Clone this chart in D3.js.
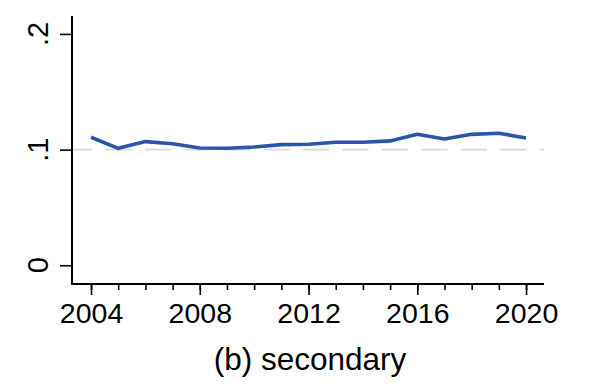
<!DOCTYPE html>
<html>
<head>
<meta charset="utf-8">
<script src="https://cdn.jsdelivr.net/npm/d3@7"></script>
<style>
	body { margin: 0; background: #fff; }
	text { font-family: "Liberation Sans", Arial, sans-serif; fill: #000; }
</style>
</head>
<body>
<script>
//data
let years = [2004, 2005, 2006, 2007, 2008, 2009, 2010, 2011, 2012, 2013, 2014, 2015, 2016, 2017, 2018, 2019, 2020];
let shares = [0.1107, 0.1011, 0.1069, 0.1051, 0.1014, 0.1011, 0.1023, 0.1043, 0.1046, 0.1063, 0.1063, 0.1075, 0.1132, 0.1092, 0.1132, 0.1141, 0.1101];
let yTicks = [0, 0.1, 0.2];
let yTickLabels = ["0", ".1", ".2"];
let xMajorTicks = [2004, 2008, 2012, 2016, 2020];
let refValue = 0.1;
let title = "(b) secondary";

let svg = d3.select("body").append("svg")
	.attr("width", 598)
	.attr("height", 386);

//plot area edges
let plotLeft = 72, plotRight = 544, plotTop = 16, plotBottom = 284;

let scaleX = d3.scaleLinear()
	.domain([2003.3, 2020.66])
	.range([plotLeft, plotRight]);

let scaleY = d3.scaleLinear()
	.domain([-0.0162, 0.2155])
	.range([plotBottom, plotTop]);

//dashed reference line at .1
svg.append("line")
	.attr("x1", plotLeft)
	.attr("x2", plotRight)
	.attr("y1", scaleY(refValue))
	.attr("y2", scaleY(refValue))
	.attr("stroke", "#d8d8d8")
	.attr("stroke-width", 1.6)
	.attr("stroke-dasharray", "26,13.5")
	.attr("stroke-dashoffset", 6);

//the series
let line = d3.line()
	.x((d, i) => scaleX(years[i]))
	.y(d => scaleY(d));

svg.append("path")
	.datum(shares)
	.attr("d", line)
	.attr("fill", "none")
	.attr("stroke", "#2b55a8")
	.attr("stroke-width", 3.6)
	.attr("stroke-linejoin", "round");

//y axis
let yAxis = d3.axisLeft(scaleY)
	.tickValues(yTicks)
	.tickSize(12)
	.tickFormat("");

let yG = svg.append("g")
	.attr("transform", `translate(${plotLeft}, 0)`)
	.call(yAxis);
yG.select(".domain").attr("d", `M0,${plotTop}V${plotBottom}`).attr("stroke-width", 2);
yG.selectAll(".tick line").attr("stroke-width", 1.6);

svg.selectAll(".ylab")
	.data(yTicks)
	.enter().append("text")
	.attr("class", "ylab")
	.attr("transform", d => `translate(48, ${scaleY(d)}) rotate(-90)`)
	.attr("text-anchor", "middle")
	.attr("font-size", 29)
	.text((d, i) => yTickLabels[i]);

//x axis, minor ticks every year, longer ones with labels
let xMinor = d3.axisBottom(scaleX)
	.tickValues(years)
	.tickSize(6)
	.tickFormat("");

let xMinorG = svg.append("g")
	.attr("transform", `translate(0, ${plotBottom})`)
	.call(xMinor);
xMinorG.select(".domain").remove();
xMinorG.selectAll(".tick line").attr("stroke-width", 1.6);

let xAxis = d3.axisBottom(scaleX)
	.tickValues(xMajorTicks)
	.tickSize(11)
	.tickPadding(8)
	.tickFormat(d3.format("d"));

let xG = svg.append("g")
	.attr("transform", `translate(0, ${plotBottom})`)
	.call(xAxis);
xG.select(".domain").attr("d", `M${plotLeft - 1},0H${plotRight}`).attr("stroke-width", 2);
xG.selectAll(".tick line").attr("stroke-width", 1.6);
xG.selectAll(".tick text")
	.attr("font-size", 28.5)
	.attr("font-family", "Liberation Sans, Arial, sans-serif")
	.attr("fill", "#000");

//caption under the chart
svg.append("text")
	.attr("x", 310)
	.attr("y", 370)
	.attr("text-anchor", "middle")
	.attr("font-size", 31.5)
	.text(title);
</script>
</body>
</html>
